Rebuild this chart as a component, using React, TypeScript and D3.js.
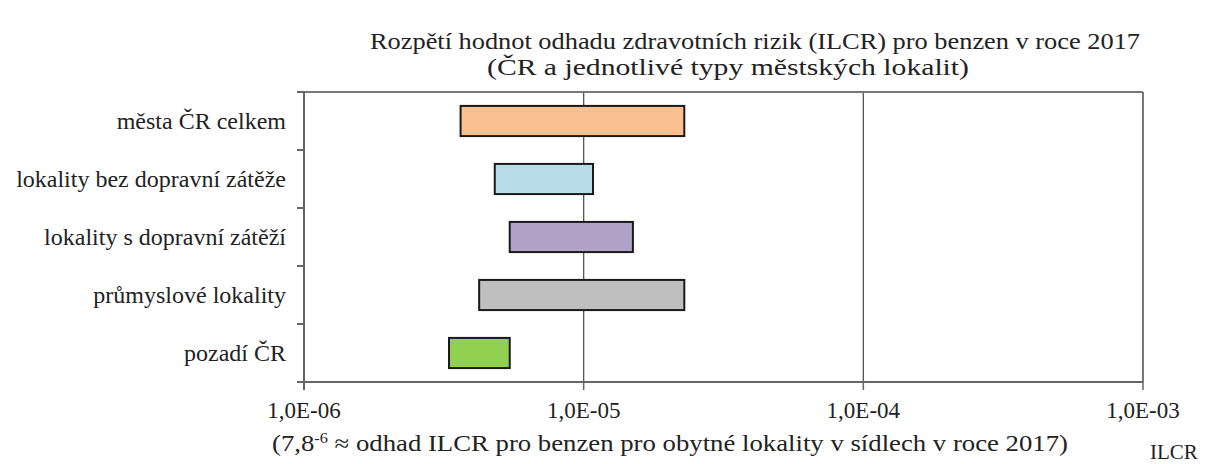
import React from "react";
import * as d3 from "d3";

const categories = [
  "města ČR celkem",
  "lokality bez dopravní zátěže",
  "lokality s dopravní zátěží",
  "průmyslové lokality",
  "pozadí ČR",
];
const minValues = [3.63e-6, 4.81e-6, 5.44e-6, 4.23e-6, 3.3e-6];
const maxValues = [2.29e-5, 1.08e-5, 1.5e-5, 2.29e-5, 5.44e-6];
const barColors = ["#FAC090", "#B7DEE8", "#B3A2C7", "#BFBFBF", "#92D050"];
const xTicks = [1e-6, 1e-5, 1e-4, 1e-3];
const xTickLabels = ["1,0E-06", "1,0E-05", "1,0E-04", "1,0E-03"];
const titleLines = [
  "Rozpětí hodnot odhadu zdravotních rizik (ILCR) pro benzen v roce 2017",
  "(ČR a jednotlivé typy městských lokalit)",
];
const axisTitle = "ILCR";

const W = 1206;
const H = 464;
const left = 304;
const right = 1143;
const top = 92;
const bottom = 382;
const FONT = '"Liberation Serif", Tinos, "Times New Roman", Times, serif';
const TXT = "#222";

export default function App() {
  const x = d3.scaleLog().domain([1e-6, 1e-3]).range([left, right]);
  const y = d3.scaleBand<string>().domain(categories).range([top, bottom]).paddingInner(0).paddingOuter(0);
  const bw = y.bandwidth();
  const barH = bw * 0.52;
  const boundaries = d3.range(categories.length + 1).map((i) => top + i * bw);

  return (
    <svg
      width={W}
      height={H}
      style={{ position: "absolute", left: 0, top: 0, background: "#fff", fontFamily: FONT }}
    >
      <rect x={0} y={0} width={W} height={H} fill="#fff" />
      {/* title */}
      <text x={755} y={49} textAnchor="middle" fontSize={24} fill={TXT} textLength={770} lengthAdjust="spacingAndGlyphs">
        {titleLines[0]}
      </text>
      <text x={728} y={75} textAnchor="middle" fontSize={24} fill={TXT} textLength={482} lengthAdjust="spacingAndGlyphs">
        {titleLines[1]}
      </text>

      {/* grid lines */}
      {xTicks.slice(1, -1).map((t) => (
        <line key={t} x1={x(t)} x2={x(t)} y1={top} y2={bottom} stroke="#555" strokeWidth={1.3} />
      ))}
      {/* frame */}
      <line x1={left} x2={right} y1={top} y2={top} stroke="#777" strokeWidth={2} />
      <line x1={right} x2={right} y1={top} y2={bottom} stroke="#777" strokeWidth={2} />

      {/* bars */}
      {categories.map((c, i) => {
        const x0 = x(minValues[i]);
        const x1 = x(maxValues[i]);
        const yc = (y(c) as number) + bw / 2;
        return (
          <rect
            key={c}
            x={x0}
            y={yc - barH / 2}
            width={x1 - x0}
            height={barH}
            fill={barColors[i]}
            stroke="#1a1a1a"
            strokeWidth={2}
          />
        );
      })}

      {/* y axis */}
      <line x1={left} x2={left} y1={top} y2={bottom + 8} stroke="#666" strokeWidth={2} />
      {boundaries.slice(0, -1).map((b, i) => (
        <line key={i} x1={left - 7} x2={left} y1={b} y2={b} stroke="#666" strokeWidth={2} />
      ))}
      {categories.map((c) => (
        <text
          key={c}
          x={286}
          y={(y(c) as number) + bw / 2 + 8}
          textAnchor="end"
          fontSize={24}
          fill={TXT}
        >
          {c}
        </text>
      ))}

      {/* x axis */}
      <line x1={left - 7} x2={right} y1={bottom} y2={bottom} stroke="#666" strokeWidth={2} />
      {xTicks.map((t, i) => (
        <g key={t}>
          <line x1={x(t)} x2={x(t)} y1={bottom} y2={bottom + 8} stroke="#666" strokeWidth={1.5} />
          <text x={x(t)} y={418} textAnchor="middle" fontSize={23} fill={TXT}>
            {xTickLabels[i]}
          </text>
        </g>
      ))}

      {/* note */}
      <text x={272} y={451} fontSize={23} fill={TXT} textLength={796} lengthAdjust="spacingAndGlyphs">
        (7,8<tspan dy={-8} fontSize={14}>-6</tspan>
        <tspan dy={8}> ≈ odhad ILCR pro benzen pro obytné lokality v sídlech v roce 2017)</tspan>
      </text>
      <text x={1150} y={459} fontSize={21} fill={TXT}>
        {axisTitle}
      </text>
    </svg>
  );
}
